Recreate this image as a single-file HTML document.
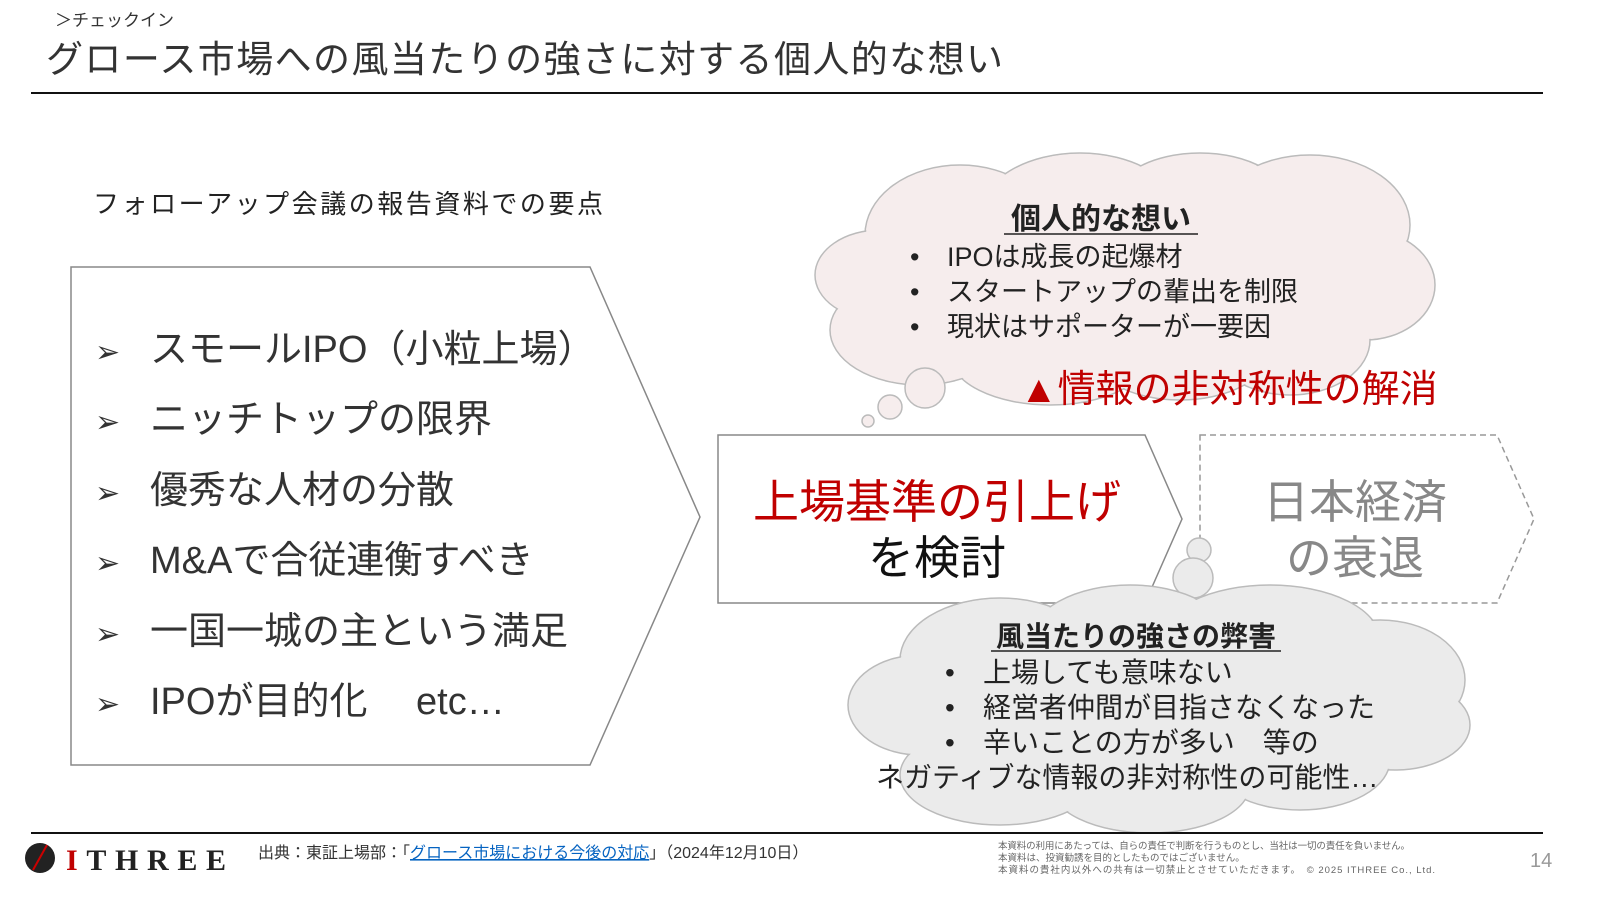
<!DOCTYPE html>
<html><head><meta charset="utf-8"><style>
body{margin:0;width:1600px;height:900px;background:#fff;overflow:hidden;font-family:"Liberation Sans","Noto Sans CJK JP",sans-serif}
svg text{font-family:"Liberation Sans","Noto Sans CJK JP",sans-serif}
</style></head><body>
<svg width="1600" height="900" viewBox="0 0 1600 900" xmlns="http://www.w3.org/2000/svg">
<text x="55" y="26" font-size="17" fill="#333">＞チェックイン</text>
<text x="46" y="72" font-size="37" fill="#333" textLength="957">グロース市場への風当たりの強さに対する個人的な想い</text>
<line x1="31" y1="93" x2="1543" y2="93" stroke="#111" stroke-width="2"/>
<text x="93" y="213" font-size="26" fill="#222" textLength="510">フォローアップ会議の報告資料での要点</text>
<polygon points="71,267 590,267 700,517 590,765 71,765" fill="#fff" stroke="#888" stroke-width="1.5"/>
<g font-size="38" fill="#333">
<text x="95" y="362" font-size="30">➢</text><text x="150" y="362">スモールIPO（小粒上場）</text>
<text x="95" y="432" font-size="30">➢</text><text x="150" y="432">ニッチトップの限界</text>
<text x="95" y="503" font-size="30">➢</text><text x="150" y="503">優秀な人材の分散</text>
<text x="95" y="573" font-size="30">➢</text><text x="150" y="573">M&amp;Aで合従連衡すべき</text>
<text x="95" y="644" font-size="30">➢</text><text x="150" y="644">一国一城の主という満足</text>
<text x="95" y="714" font-size="30">➢</text><text x="150" y="714">IPOが目的化　 etc…</text>
</g>
<g stroke="#bbb" stroke-width="1.5" fill="#f6eded">
<ellipse cx="960" cy="235" rx="95" ry="70"/>
<ellipse cx="1080" cy="215" rx="100" ry="62"/>
<ellipse cx="1200" cy="205" rx="90" ry="52"/>
<ellipse cx="1310" cy="225" rx="100" ry="70"/>
<ellipse cx="1365" cy="285" rx="70" ry="55"/>
<ellipse cx="1290" cy="340" rx="80" ry="55"/>
<ellipse cx="1180" cy="350" rx="90" ry="50"/>
<ellipse cx="1050" cy="355" rx="100" ry="50"/>
<ellipse cx="920" cy="330" rx="90" ry="55"/>
<ellipse cx="880" cy="275" rx="65" ry="45"/>
</g>
<g fill="#f6eded">
<ellipse cx="960" cy="235" rx="94" ry="69"/><ellipse cx="1080" cy="215" rx="99" ry="61"/><ellipse cx="1200" cy="205" rx="89" ry="51"/><ellipse cx="1310" cy="225" rx="99" ry="69"/><ellipse cx="1365" cy="285" rx="69" ry="54"/><ellipse cx="1290" cy="340" rx="79" ry="54"/><ellipse cx="1180" cy="350" rx="89" ry="49"/><ellipse cx="1050" cy="355" rx="99" ry="49"/><ellipse cx="920" cy="330" rx="89" ry="54"/><ellipse cx="880" cy="275" rx="64" ry="44"/><rect x="900" y="230" width="420" height="120"/>
</g>
<g fill="#f6eded" stroke="#bbb" stroke-width="1.5">
<circle cx="925" cy="388" r="20"/><circle cx="890" cy="407" r="12"/><circle cx="868" cy="421" r="6"/>
</g>
<text x="1101" y="229" font-size="30" font-weight="bold" fill="#222" text-anchor="middle">個人的な想い</text>
<line x1="1004" y1="234" x2="1198" y2="234" stroke="#222" stroke-width="1.5"/>
<g font-size="27" fill="#222">
<text x="910" y="266">•</text><text x="947" y="266">IPOは成長の起爆材</text>
<text x="910" y="301">•</text><text x="947" y="301">スタートアップの輩出を制限</text>
<text x="910" y="336">•</text><text x="947" y="336">現状はサポーターが一要因</text>
</g>
<text x="1020" y="402" font-size="38" fill="#c00000">▲情報の非対称性の解消</text>
<polygon points="718,435 1145,435 1182,519 1145,603 718,603" fill="#fff" stroke="#888" stroke-width="1.5"/>
<text x="937" y="518" font-size="46" fill="#c00000" text-anchor="middle">上場基準の引上げ</text>
<text x="937" y="574" font-size="46" fill="#111" text-anchor="middle">を検討</text>
<polygon points="1200,435 1497,435 1534,519 1497,603 1200,603" fill="#fff" stroke="#999" stroke-width="1.5" stroke-dasharray="6,4"/>
<text x="1355" y="518" font-size="46" fill="#888" text-anchor="middle">日本経済</text>
<text x="1355" y="574" font-size="46" fill="#888" text-anchor="middle">の衰退</text>
<g fill="#ebebeb" stroke="#bbb" stroke-width="1.5">
<circle cx="1199" cy="550" r="12"/><circle cx="1193" cy="578" r="20"/>
<ellipse cx="1000" cy="660" rx="100" ry="62"/>
<ellipse cx="1130" cy="640" rx="100" ry="55"/>
<ellipse cx="1270" cy="640" rx="110" ry="55"/>
<ellipse cx="1380" cy="680" rx="85" ry="60"/>
<ellipse cx="1395" cy="725" rx="75" ry="45"/>
<ellipse cx="1300" cy="760" rx="90" ry="50"/>
<ellipse cx="1150" cy="785" rx="100" ry="48"/>
<ellipse cx="1000" cy="775" rx="100" ry="50"/>
<ellipse cx="920" cy="705" rx="72" ry="50"/>
</g>
<g fill="#ebebeb">
<ellipse cx="1000" cy="660" rx="99" ry="61"/><ellipse cx="1130" cy="640" rx="99" ry="54"/><ellipse cx="1270" cy="640" rx="109" ry="54"/><ellipse cx="1380" cy="680" rx="84" ry="59"/><ellipse cx="1395" cy="725" rx="74" ry="44"/><ellipse cx="1300" cy="760" rx="89" ry="49"/><ellipse cx="1150" cy="785" rx="99" ry="47"/><ellipse cx="1000" cy="775" rx="99" ry="49"/><ellipse cx="920" cy="705" rx="71" ry="49"/><rect x="930" y="650" width="420" height="120"/>
</g>
<text x="1136" y="646" font-size="28" font-weight="bold" fill="#222" text-anchor="middle">風当たりの強さの弊害</text>
<line x1="991" y1="651" x2="1281" y2="651" stroke="#222" stroke-width="1.5"/>
<g font-size="28" fill="#222">
<text x="945" y="682">•</text><text x="983" y="682">上場しても意味ない</text>
<text x="945" y="717">•</text><text x="983" y="717">経営者仲間が目指さなくなった</text>
<text x="945" y="752">•</text><text x="983" y="752">辛いことの方が多い　等の</text>
<text x="876" y="787">ネガティブな情報の非対称性の可能性…</text>
</g>
<line x1="31" y1="833" x2="1543" y2="833" stroke="#111" stroke-width="2"/>
<circle cx="40" cy="858" r="15" fill="#222"/>
<line x1="33" y1="870" x2="47" y2="845" stroke="#c00" stroke-width="2"/>
<text x="66" y="870" font-size="30" font-weight="bold" fill="#222" textLength="160" style="font-family:'Liberation Serif',serif"><tspan fill="#c00000">I</tspan>THREE</text>
<text x="258" y="858" font-size="16" fill="#333">出典：東証上場部：「<tspan fill="#0563c1" text-decoration="underline">グロース市場における今後の対応</tspan>」（2024年12月10日）</text>
<g font-size="9.5" fill="#666">
<text x="998" y="849" textLength="412">本資料の利用にあたっては、自らの責任で判断を行うものとし、当社は一切の責任を負いません。</text>
<text x="998" y="861">本資料は、投資勧誘を目的としたものではございません。</text>
<text x="998" y="873" textLength="437">本資料の貴社内以外への共有は一切禁止とさせていただきます。　©  2025  ITHREE Co., Ltd.</text>
</g>
<text x="1530" y="867" font-size="20" fill="#999">14</text>
</svg>
</body></html>
